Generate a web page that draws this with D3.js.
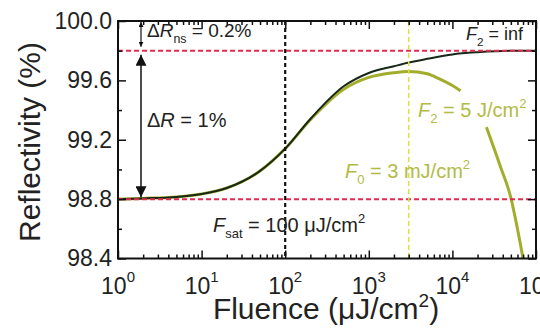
<!DOCTYPE html>
<html>
<head>
<meta charset="utf-8">
<script src="https://cdn.jsdelivr.net/npm/d3@7"></script>
<style>
  body { margin: 0; background: #fff; }
  svg { display: block; font-family: "Liberation Sans", Arial, Helvetica, sans-serif; }
</style>
</head>
<body>
<svg width="540" height="334"></svg>
<script>
// fluence (uJ/cm^2) and reflectivity (%)
var blackF = [1, 2, 5, 10, 20, 50, 100, 200, 500, 1000, 2000, 3000, 5000, 10000, 20000, 50000, 100000];
var blackR = [98.80, 98.805, 98.815, 98.835, 98.875, 98.99, 99.14, 99.34, 99.56, 99.65, 99.695, 99.72, 99.745, 99.775, 99.79, 99.80, 99.80];

// F2 = 5 J/cm^2 curve, NaN = hidden behind the label
var yellowF = [1, 2, 5, 10, 20, 50, 100, 200, 500, 1000, 2000, 3000, 5000, 7000, 10000, 12500, 18000, 25500, 37500, 50000, 60000, 70000];
var yellowR = [98.80, 98.805, 98.815, 98.835, 98.875, 98.99, 99.14, 99.335, 99.54, 99.62, 99.652, 99.66, 99.645, 99.61, 99.565, 99.53, NaN, 99.285, 99.02, 98.81, 98.60, 98.40];

var majorF = [1, 10, 100, 1000, 10000, 100000];
var exponents = [0, 1, 2, 3, 4, 5];
var majorR = [98.4, 98.8, 99.2, 99.6, 100.0];
var minorR = [98.6, 99.0, 99.4, 99.8];

var levelR = [99.8, 98.8];     // red dashed lines
var Fsat = 100;                // black dashed line
var F0 = 3000;                 // yellow dashed line

var minorF = [];
majorF.slice(0, -1).forEach(function (d) {
  for (var k = 2; k <= 9; k++) minorF.push(d * k);
});

var svg = d3.select("svg");

var x = d3.scaleLog().domain([1, 1e5]).range([118, 536]);
var y = d3.scaleLinear().domain([98.4, 100]).range([258.5, 21]);

var yellowCol = "#a3ad2c";
var yellowText = "#b3bb45";
var redCol = "#e42a50";

// arrow heads
var defs = svg.append("defs");
function head(id, len, w) {
  defs.append("marker")
    .attr("id", id)
    .attr("markerUnits", "userSpaceOnUse")
    .attr("viewBox", "0 -5 10 10")
    .attr("refX", 10).attr("refY", 0)
    .attr("markerWidth", len).attr("markerHeight", w)
    .attr("orient", "auto-start-reverse")
    .append("path").attr("d", "M0,-5L10,0L0,5Z").attr("fill", "#111");
}
head("big", 13, 11);
head("small", 5, 5);

svg.append("clipPath").attr("id", "plot")
  .append("rect").attr("x", 118).attr("y", 21).attr("width", 418).attr("height", 237.5);

// curves
var line = d3.line()
  .defined(function (d) { return !isNaN(d[1]); })
  .x(function (d) { return x(d[0]); })
  .y(function (d) { return y(d[1]); })
  .curve(d3.curveMonotoneX);

var plot = svg.append("g").attr("clip-path", "url(#plot)");

plot.append("path")
  .datum(yellowF.map(function (f, i) { return [f, yellowR[i]]; }))
  .attr("fill", "none").attr("stroke", yellowCol).attr("stroke-width", 3)
  .attr("d", line);

plot.append("path")
  .datum(blackF.map(function (f, i) { return [f, blackR[i]]; }))
  .attr("fill", "none").attr("stroke", "#182818").attr("stroke-width", 2)
  .attr("d", line);

// reference lines
plot.selectAll(".lvl").data(levelR).enter().append("line")
  .attr("x1", x(1)).attr("x2", x(1e5))
  .attr("y1", function (d) { return y(d); }).attr("y2", function (d) { return y(d); })
  .attr("stroke", redCol).attr("stroke-width", 2).attr("stroke-dasharray", "5,3");

plot.append("line")
  .attr("x1", x(Fsat)).attr("x2", x(Fsat)).attr("y1", y(100)).attr("y2", y(98.4))
  .attr("stroke", "#111").attr("stroke-width", 2.2).attr("stroke-dasharray", "4,3");

plot.append("line")
  .attr("x1", x(F0)).attr("x2", x(F0)).attr("y1", y(100)).attr("y2", y(98.4))
  .attr("stroke", "#d9e04e").attr("stroke-width", 1.6).attr("stroke-dasharray", "5,3");

// axes
function clean(g) {
  g.select(".domain").remove();
  g.selectAll(".tick line").attr("stroke", "#111").attr("stroke-width", 1.5);
}

svg.append("g").attr("transform", "translate(0," + y(98.4) + ")")
  .call(d3.axisBottom(x).tickValues(majorF).tickSizeInner(-8).tickSizeOuter(0).tickFormat(""))
  .call(clean);
svg.append("g").attr("transform", "translate(0," + y(98.4) + ")")
  .call(d3.axisBottom(x).tickValues(minorF).tickSizeInner(-4).tickSizeOuter(0).tickFormat(""))
  .call(clean);
svg.append("g").attr("transform", "translate(0," + y(100) + ")")
  .call(d3.axisTop(x).tickValues(majorF).tickSizeInner(-8).tickSizeOuter(0).tickFormat(""))
  .call(clean);
svg.append("g").attr("transform", "translate(0," + y(100) + ")")
  .call(d3.axisTop(x).tickValues(minorF).tickSizeInner(-4).tickSizeOuter(0).tickFormat(""))
  .call(clean);

var yLeft = svg.append("g").attr("transform", "translate(" + x(1) + ",0)")
  .call(d3.axisLeft(y).tickValues(majorR).tickSizeInner(-8).tickSizeOuter(0)
    .tickPadding(6).tickFormat(d3.format(".1f")))
  .call(clean);
yLeft.selectAll(".tick text")
  .attr("font-size", 23).attr("fill", "#222").attr("font-family", null);

svg.append("g").attr("transform", "translate(" + x(1) + ",0)")
  .call(d3.axisLeft(y).tickValues(minorR).tickSizeInner(-4).tickSizeOuter(0).tickFormat(""))
  .call(clean);
svg.append("g").attr("transform", "translate(" + x(1e5) + ",0)")
  .call(d3.axisRight(y).tickValues(majorR).tickSizeInner(-8).tickSizeOuter(0).tickFormat(""))
  .call(clean);
svg.append("g").attr("transform", "translate(" + x(1e5) + ",0)")
  .call(d3.axisRight(y).tickValues(minorR).tickSizeInner(-4).tickSizeOuter(0).tickFormat(""))
  .call(clean);

// frame
svg.append("rect")
  .attr("x", x(1)).attr("y", y(100))
  .attr("width", x(1e5) - x(1)).attr("height", y(98.4) - y(100))
  .attr("fill", "none").attr("stroke", "#111").attr("stroke-width", 2);

// x tick labels 10^n
var xl = svg.selectAll(".xl").data(exponents).enter().append("text")
  .attr("x", function (d) { return x(Math.pow(10, d)); })
  .attr("y", 294)
  .attr("text-anchor", "middle")
  .attr("font-size", 23).attr("fill", "#222");
xl.append("tspan").text("10");
xl.append("tspan").attr("dy", -12).attr("font-size", 15).text(function (d) { return d; });

// axis titles
var xt = svg.append("text")
  .attr("x", 326).attr("y", 319)
  .attr("text-anchor", "middle").attr("font-size", 30).attr("fill", "#222");
xt.append("tspan").text("Fluence (\u03bcJ/cm");
xt.append("tspan").attr("dy", -12).attr("font-size", 19).text("2");
xt.append("tspan").attr("dy", 12).text(")");

svg.append("text")
  .attr("transform", "translate(40,142) rotate(-90)")
  .attr("text-anchor", "middle").attr("font-size", 30).attr("fill", "#222")
  .text("Reflectivity (%)");

// arrows
var ax = 141;
svg.append("line")
  .attr("x1", ax).attr("x2", ax).attr("y1", y(99.8) + 4).attr("y2", y(98.8) - 2)
  .attr("stroke", "#111").attr("stroke-width", 1.5)
  .attr("marker-start", "url(#big)").attr("marker-end", "url(#big)");
svg.append("line")
  .attr("x1", ax).attr("x2", ax).attr("y1", y(100) + 1).attr("y2", y(99.8) - 4)
  .attr("stroke", "#111").attr("stroke-width", 1.2)
  .attr("marker-start", "url(#small)").attr("marker-end", "url(#small)");

// annotations
function label(px, py, size, color, parts) {
  var t = svg.append("text").attr("x", px).attr("y", py)
    .attr("font-size", size).attr("fill", color);
  var shift = 0;
  parts.forEach(function (p) {
    var s = t.append("tspan").text(p.t);
    var want = p.sub ? 6 : p.sup ? -9 : 0;
    if (want !== shift) { s.attr("dy", want - shift); shift = want; }
    if (p.sub || p.sup) s.attr("font-size", size * 0.65);
    if (p.i) s.attr("font-style", "italic");
  });
  return t;
}

label(147, 37, 19, "#222", [{t: "\u0394"}, {t: "R", i: true}, {t: "ns", sub: true}, {t: " = 0.2%"}]);
label(147, 127, 20, "#222", [{t: "\u0394"}, {t: "R", i: true}, {t: " = 1%"}]);
label(213, 232, 20, "#222", [{t: "F", i: true}, {t: "sat", sub: true}, {t: " = 100 \u03bcJ/cm"}, {t: "2", sup: true}]);
label(345, 178, 20, yellowText, [{t: "F", i: true}, {t: "0", sub: true}, {t: " = 3 mJ/cm"}, {t: "2", sup: true}]);
label(418, 117, 20, yellowText, [{t: "F", i: true}, {t: "2", sub: true}, {t: " = 5 J/cm"}, {t: "2", sup: true}]);
label(466, 40, 18, "#222", [{t: "F", i: true}, {t: "2", sub: true}, {t: " = inf"}]);
</script>
</body>
</html>
